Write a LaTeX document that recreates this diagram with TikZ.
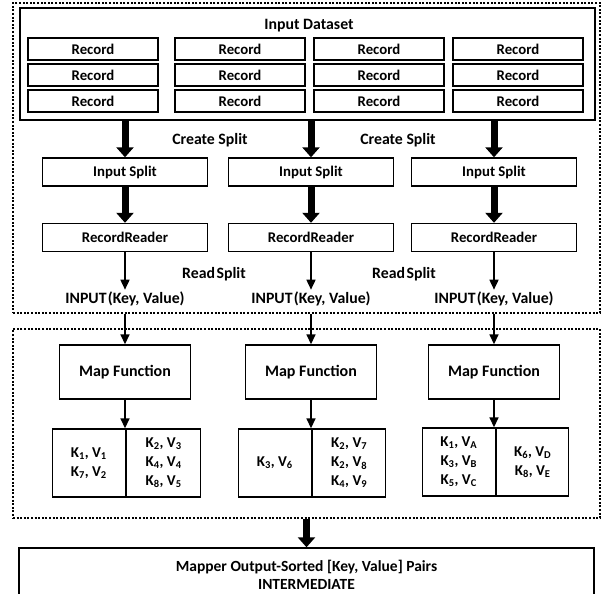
\documentclass[tikz,border=0pt]{standalone}
\usepackage{fontspec}
\setmainfont{Carlito}
\usetikzlibrary{arrows.meta}
\newcommand{\kv}[2]{K\textsubscript{#1}, V\textsubscript{#2}}
\begin{document}
\begin{tikzpicture}[x=1pt,y=-1pt,
  box/.style={draw, line width=1.4pt, inner sep=0pt},
  rec/.style={box, minimum width=130pt, minimum height=22pt,
    font=\bfseries\fontsize{14.8}{17}\selectfont},
  stepbox/.style={box, minimum width=165pt, minimum height=28pt,
    font=\bfseries\fontsize{14.8}{17}\selectfont},
  mapbox/.style={box, minimum width=131pt, minimum height=54pt,
    font=\bfseries\fontsize{16}{19}\selectfont},
  half/.style={box, minimum height=68pt, align=center,
    font=\bfseries\fontsize{15}{19}\selectfont},
  lbl/.style={inner sep=2pt, font=\bfseries\fontsize{15.8}{18}\selectfont},
  zone/.style={draw, line width=2pt, dash pattern=on 2pt off 1.6pt, inner sep=0pt},
  bigarrow/.style={line width=7pt, -{Triangle[width=17pt,length=10pt]}},
  thinarrow/.style={line width=1.6pt, -{Triangle[width=9pt,length=10pt]}}
]
\useasboundingbox (0,0) rectangle (605,594);

% dotted zones
\node[zone, minimum width=587pt, minimum height=310pt] (zoneA) at (306.5,158) {};
\node[zone, minimum width=587pt, minimum height=189pt] (zoneB) at (306.5,423.5) {};

% input dataset with its records
\node[box, line width=1.5pt, minimum width=575pt, minimum height=112pt] (ds) at (307.5,64) {};
\node[lbl] (dstitle) at (309,26) {Input Dataset};
\foreach \c/\x in {1/93,2/240,3/379,4/518}
  \foreach \r/\y in {1/49,2/75,3/101}
    \node[rec] (rec\c\r) at (\x,\y) {Record};

% splits and readers
\foreach \i/\x in {1/125,2/311,3/494} {
  \node[stepbox] (split\i) at (\x,172) {Input Split};
  \node[stepbox] (reader\i) at (\x,237.5) {RecordReader};
  \node[lbl] (in\i) at (\x,299) {INPUT\hspace{0.08em}(Key, Value)};
  \node[mapbox] (map\i) at (\x,372) {Map Function};
  \draw[bigarrow] (split\i.north |- ds.south) -- (split\i.north);
  \draw[bigarrow] (split\i.south) -- (reader\i.north);
  \draw[thinarrow] (reader\i.south) -- (in\i.north);
  \draw[thinarrow] (map\i.north |- zoneA.south) -- (map\i.north);
}

\node[lbl] (cs1) at (210,140) {Create Split};
\node[lbl] (cs2) at (398,140) {Create Split};
\node[lbl] (rs1) at (214,274) {Read\hspace{0.1em}Split};
\node[lbl] (rs2) at (404,274) {Read\hspace{0.1em}Split};

% key/value output of each map
\node[half, minimum width=73pt, anchor=east] (kvl1) at (126,463) {\kv{1}{1}\\\kv{7}{2}};
\node[half, minimum width=74pt, anchor=west] (kvr1) at (126,463) {\kv{2}{3}\\\kv{4}{4}\\\kv{8}{5}};
\node[half, minimum width=73pt, anchor=east] (kvl2) at (312,463) {\kv{3}{6}};
\node[half, minimum width=73pt, anchor=west] (kvr2) at (312,463) {\kv{2}{7}\\\kv{2}{8}\\\kv{4}{9}};
\node[half, minimum width=73pt, anchor=east] (kvl3) at (496,462) {\kv{1}{A}\\\kv{3}{B}\\\kv{5}{C}};
\node[half, minimum width=72pt, anchor=west] (kvr3) at (496,462) {\kv{6}{D}\\\kv{8}{E}};

\draw[thinarrow] (map1.south) -- (map1.south |- kvl1.north);
\draw[thinarrow] (map2.south) -- (map2.south |- kvl2.north);
\draw[thinarrow] (map3.south) -- (map3.south |- kvl3.north);

% sorted intermediate output
\node[box, minimum width=575pt, minimum height=54pt, align=center,
  font=\bfseries\fontsize{15.5}{18}\selectfont] (out) at (306.5,575)
  {Mapper Output-Sorted [Key, Value] Pairs\\INTERMEDIATE};
\draw[bigarrow] (out.north |- zoneB.south) -- (out.north);
\end{tikzpicture}
\end{document}
